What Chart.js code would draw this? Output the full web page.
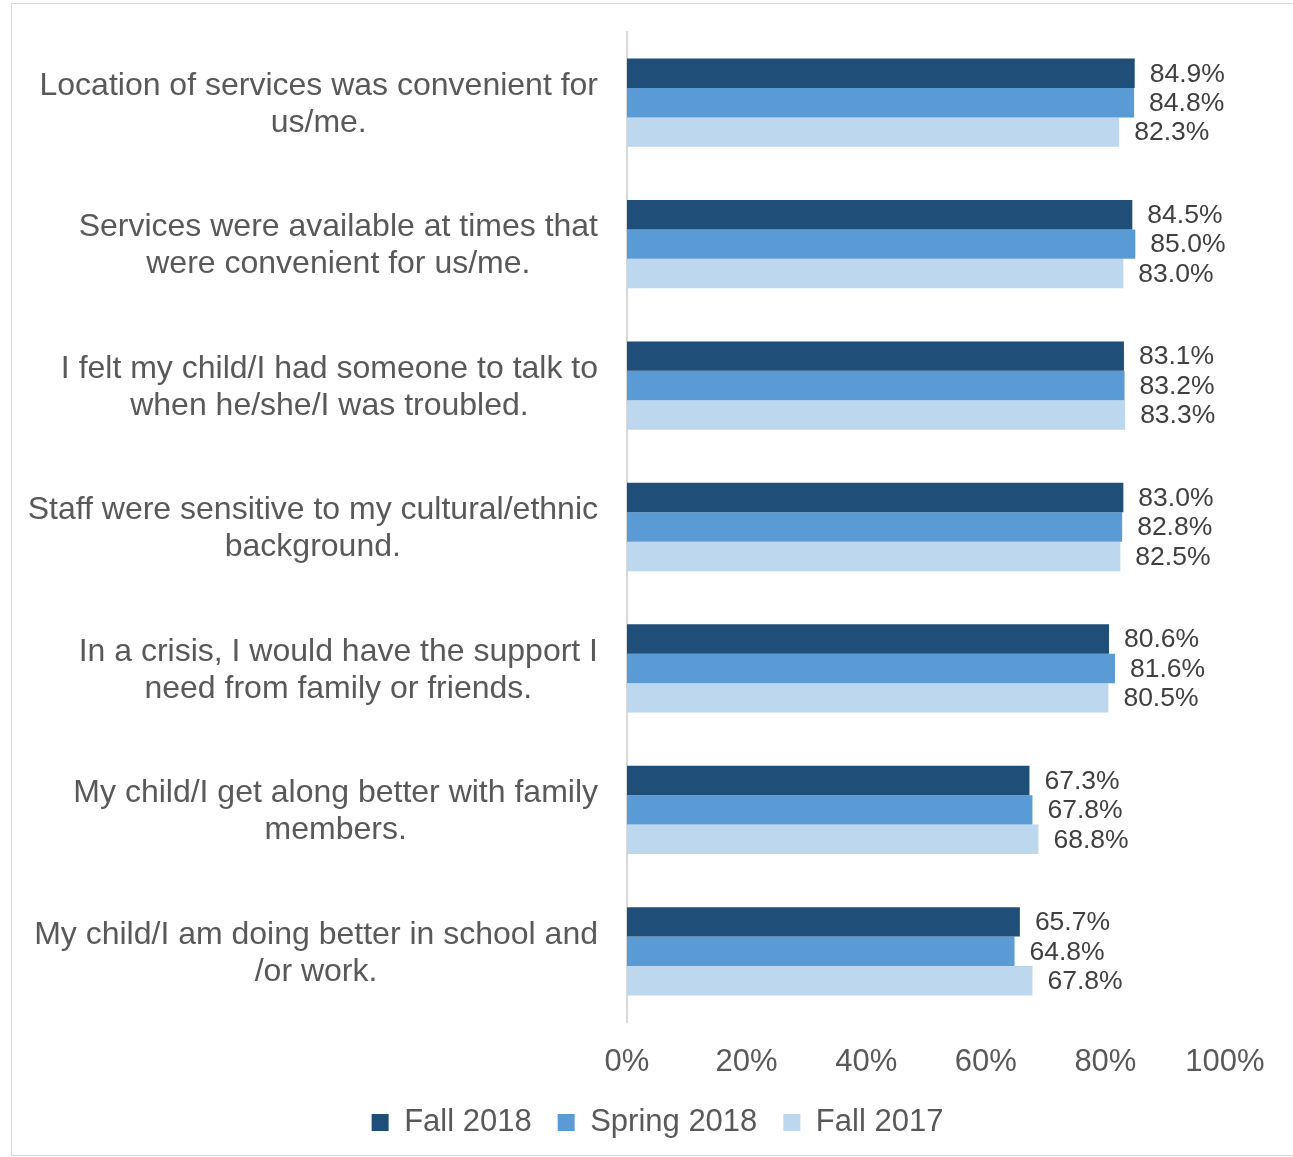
<!DOCTYPE html>
<html>
<head>
<meta charset="utf-8">
<script src="https://cdn.jsdelivr.net/npm/chart.js@4.4.0/dist/chart.umd.min.js"></script>
<style>
  html, body { margin: 0; padding: 0; background: #fff; overflow: hidden; }
  #frame { position: absolute; left: 11px; top: 3px; width: 1300px; height: 1151px; border: 1px solid #d9d9d9; }
  #chart { position: absolute; left: 0; top: 0; }
</style>
</head>
<body>
<div id="frame"></div>
<canvas id="chart" width="1293" height="1157"></canvas>
<script>
const categories = [
    ['Location of services was convenient for', 'us/me.'],
    ['Services were available at times that', 'were convenient for us/me.'],
    ['I felt my child/I had someone to talk to', 'when he/she/I was troubled.'],
    ['Staff were sensitive to my cultural/ethnic', 'background.'],
    ['In a crisis, I would have the support I', 'need from family or friends.'],
    ['My child/I get along better with family', 'members.'],
    ['My child/I am doing better in school and', '/or work.']
];
const fall2018 = [84.9, 84.5, 83.1, 83.0, 80.6, 67.3, 65.7];
const spring2018 = [84.8, 85.0, 83.2, 82.8, 81.6, 67.8, 64.8];
const fall2017 = [82.3, 83.0, 83.3, 82.5, 80.5, 68.8, 67.8];
const xTicks = [0, 20, 40, 60, 80, 100];

const FONT = "'Liberation Sans', Arial, sans-serif";

// category labels: right aligned block, lines centered on each other
const categoryLabels = {
    id: 'categoryLabels',
    afterDraw(chart) {
        const ctx = chart.ctx;
        const y = chart.scales.y;
        const right = chart.chartArea.left - 29;
        const lineH = 37;
        ctx.save();
        ctx.font = '32px ' + FONT;
        ctx.fillStyle = '#595959';
        ctx.textAlign = 'center';
        ctx.textBaseline = 'middle';
        categories.forEach((lines, i) => {
            const widest = Math.max(...lines.map(l => ctx.measureText(l).width));
            const cx = right - widest / 2;
            const cy = y.getPixelForValue(i) + 2;
            const top = cy - (lines.length - 1) * lineH / 2;
            lines.forEach((l, j) => ctx.fillText(l, cx, top + j * lineH));
        });
        ctx.restore();
    }
};

const valueLabels = {
    id: 'valueLabels',
    afterDatasetsDraw(chart) {
        const ctx = chart.ctx;
        ctx.save();
        ctx.font = '26.5px ' + FONT;
        ctx.fillStyle = '#404040';
        ctx.textAlign = 'left';
        ctx.textBaseline = 'middle';
        chart.data.datasets.forEach((ds, di) => {
            chart.getDatasetMeta(di).data.forEach((bar, i) => {
                ctx.fillText(ds.data[i].toFixed(1) + '%', bar.x + 15, bar.y + 1);
            });
        });
        ctx.restore();
    }
};

new Chart(document.getElementById('chart'), {
    type: 'bar',
    data: {
        labels: categories.map(c => c.join(' ')),
        datasets: [
            { label: 'Fall 2018', data: fall2018, backgroundColor: '#1f4e79' },
            { label: 'Spring 2018', data: spring2018, backgroundColor: '#5b9bd5' },
            { label: 'Fall 2017', data: fall2017, backgroundColor: '#bdd7ee' }
        ]
    },
    options: {
        indexAxis: 'y',
        responsive: false,
        animation: false,
        devicePixelRatio: 1,
        datasets: { bar: { categoryPercentage: 0.624, barPercentage: 1.0 } },
        layout: { padding: { top: 32, right: 68, left: 90, bottom: 9 } },
        plugins: {
            legend: {
                position: 'bottom',
                labels: {
                    boxWidth: 17,
                    boxHeight: 17,
                    padding: 26,
                    color: '#595959',
                    font: { family: FONT, size: 31 }
                }
            },
            tooltip: { enabled: false }
        },
        scales: {
            x: {
                min: 0,
                max: 100,
                afterBuildTicks: s => { s.ticks = xTicks.map(v => ({ value: v })); },
                afterFit: s => { s.height = 59; },
                grid: { display: false, drawTicks: false },
                border: { display: false },
                ticks: {
                    padding: 22,
                    color: '#595959',
                    font: { family: FONT, size: 31 },
                    callback: v => v + '%'
                }
            },
            y: {
                afterFit: s => { s.width = 537; },
                grid: { display: false, drawTicks: false },
                border: { display: true, color: '#d9d9d9', width: 2 },
                ticks: { display: false }
            }
        }
    },
    plugins: [categoryLabels, valueLabels]
});
</script>
</body>
</html>
